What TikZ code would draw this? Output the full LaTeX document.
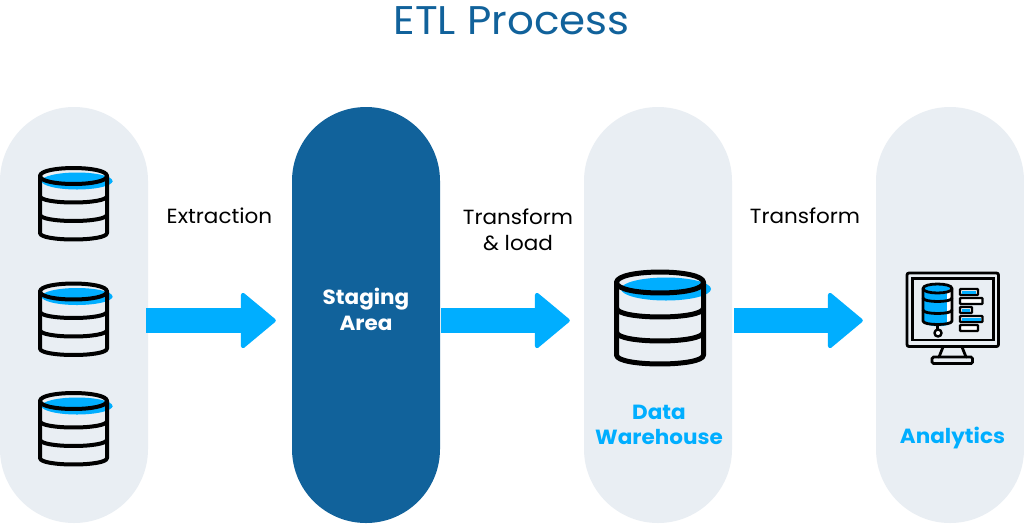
\documentclass[tikz,border=0pt]{standalone}
\usepackage{fontspec}
\setmainfont[FakeStretch=1.05]{Poppins}
\usetikzlibrary{arrows.meta}
\definecolor{pillbg}{HTML}{E9EEF3}
\definecolor{deepblue}{HTML}{11629B}
\definecolor{cyanblue}{HTML}{00AEFF}
\tikzset{
  pill/.style={rectangle,rounded corners=74pt,minimum width=148pt,minimum height=416pt,inner sep=0pt,fill=pillbg},
  flow/.style={draw=cyanblue,line width=25pt,shorten >=16pt,shorten <=-2pt,
    -{Triangle[length=36pt,width=59pt,line width=4pt,round]}},
  lbl/.style={font=\fontsize{20.5}{26}\selectfont,text=black,align=center,inner sep=0pt},
  boldlbl/.style={font=\fontsize{20.5}{25.5}\selectfont\bfseries,align=center,inner sep=0pt},
  ink/.style={draw=black,line cap=round,line join=round},
  bar/.style={draw=black,line width=2.4pt,rounded corners=0.8pt},
}
\newcommand{\dbcyl}[9]{%
  \draw[ink,line width=#9pt] (#1-#3,#2) .. controls (#1-#3,#2-1.33*#4) and (#1+#3,#2-1.33*#4) .. (#1+#3,#2)
     .. controls (#1+#3,#2+1.33*#4) and (#1-#3,#2+1.33*#4) .. (#1-#3,#2);
  \draw[ink,line width=#9pt] (#1-#3,#2) -- (#1-#3,#5) .. controls (#1-#3,#5+1.33*#6) and (#1+#3,#5+1.33*#6) .. (#1+#3,#5) -- (#1+#3,#2);
  \draw[ink,line width=#9pt] (#1-#3,#7) .. controls (#1-#3,#7+1.33*#6) and (#1+#3,#7+1.33*#6) .. (#1+#3,#7);
  \draw[ink,line width=#9pt] (#1-#3,#8) .. controls (#1-#3,#8+1.33*#6) and (#1+#3,#8+1.33*#6) .. (#1+#3,#8);
}
\begin{document}
\begin{tikzpicture}[x=1pt,y=-1pt]
\useasboundingbox (0,0) rectangle (1024,523);
\fill[white] (0,0) rectangle (1024,523);
\node[text=deepblue,font=\fontsize{40}{44}\selectfont,inner sep=0pt] (title) at (511.5,20.5) {ETL Process};
\node[pill] (p1) at (74,315) {};
\node[pill,fill=deepblue] (p2) at (366,315) {};
\node[pill] (p3) at (658,315) {};
\node[pill] (p4) at (950,315) {};
% arrows
\draw[flow] ([yshift=-5.5pt]p1.east) -- ([yshift=-5.5pt]p2.west);
\draw[flow,shorten <=1pt,shorten >=14pt] ([yshift=-5.5pt]p2.east) -- ([yshift=-5.5pt]p3.west);
\draw[flow,shorten <=2pt,shorten >=13pt] ([yshift=-5.5pt]p3.east) -- ([yshift=-5.5pt]p4.west);
% labels
\node[lbl] (l1) at (219.5,216) {Extraction};
\node[lbl] (l2) at (518,230) {Transform\\\& load};
\node[lbl] (l3) at (805,216) {Transform};
\node[boldlbl,text=white] (n2) at (366,309.5) {Staging\\Area};
\node[boldlbl,text=cyanblue] (n3) at (659,425) {Data\\Warehouse};
\node[boldlbl,text=cyanblue] (n4) at (952.5,438) {Analytics};
% small cylinders
\foreach \d in {0,115.5,225}{
  \fill[cyanblue] (77,181+\d) circle [x radius=35.5,y radius=8.5];
  \fill[cyanblue] (111,181.5+\d) circle [radius=1.6];
  \dbcyl{73.5}{176+\d}{33.5}{8}{233+\d}{6.5}{196+\d}{214.5+\d}{4}
}
% large cylinder
\fill[cyanblue] (666,289) circle [x radius=45,y radius=11.5];
\dbcyl{660}{282.5}{43.5}{10.5}{355}{9}{308}{332}{5}
% monitor
\draw[draw=black,line width=2.8pt,rounded corners=2pt] (907,273) rectangle (998.5,346.5);
\draw[draw=black,line width=2.8pt] (912.5,278.5) rectangle (993.5,340);
\draw[ink,line width=2.8pt] (943,347) -- (939,357) (962,347) -- (966,357);
\draw[draw=black,line width=2.8pt,rounded corners=1.5pt] (932,357) rectangle (972.5,363.5);
% mini database
\fill[cyanblue] (923,288) -- (923,322) .. controls (928,327) and (942,327) .. (947,325) -- (947,288) -- cycle;
\fill[white] (947,290) -- (952,288) -- (952,322) -- (947,325) -- cycle;
\fill[cyanblue] (937.5,288) circle [x radius=13,y radius=3.5];
\dbcyl{937.5}{288.5}{14.5}{4.5}{321}{3.5}{298}{310}{2.8}
\draw[ink,line width=2.8pt] (937.5,325) -- (937.5,329.5);
\draw[ink,line width=2.4pt,fill=white] (938,333) circle [radius=3.5];
% bars
\draw[bar,fill=white] (960,289) rectangle (978,295);
\fill[cyanblue] (962,290.5) rectangle (976,293.5);
\draw[bar,fill=white] (960,298) rectangle (982.5,304);
\draw[bar,fill=white] (960,307) rectangle (972,313);
\fill[cyanblue] (962,308.5) rectangle (970,311.5);
\draw[bar,fill=white] (960,316) rectangle (982.5,322);
\fill[cyanblue] (962,317.5) rectangle (980.5,320.5);
\draw[bar,fill=white] (960,325) rectangle (978,331);
\end{tikzpicture}
\end{document}
